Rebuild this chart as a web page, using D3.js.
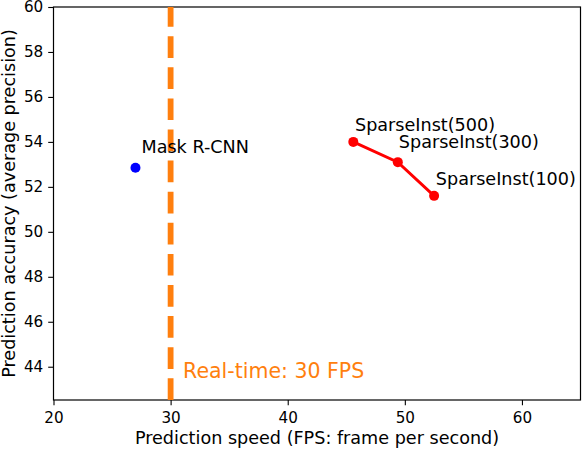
<!DOCTYPE html>
<html><head><meta charset="utf-8">
<script src="https://cdn.jsdelivr.net/npm/d3@7"></script>
<style>body{margin:0;background:#fff}svg{display:block}text{font-family:"DejaVu Sans",sans-serif}</style>
</head><body>
<script>
const maskName = ["Mask R-CNN"];
const maskFps = [27.0];
const maskAP = [52.85];
const sparseNames = ["SparseInst(500)", "SparseInst(300)", "SparseInst(100)"];
const sparseFps = [45.6, 49.4, 52.5];
const sparseAP = [54.0, 53.1, 51.6];
const xTicks = [20, 30, 40, 50, 60];
const yTicks = [44, 46, 48, 50, 52, 54, 56, 58, 60];
const realTimeFps = 30;
const realTimeLabel = "Real-time: 30 FPS";

// label placement (style, pixels)
const maskLabelOffset = [6, -15];
const sparseLabelOffsets = [[1.7, -11], [1, -14], [1.7, -10.7]];

const W = 584, H = 450;
const m = {l: 53.5, r: 3.5, t: 7, b: 50};
const svg = d3.select("body").append("svg").attr("width", W).attr("height", H);
const x = d3.scaleLinear().domain([20, 65]).range([m.l, W - m.r]);
const y = d3.scaleLinear().domain([42.52, 60]).range([H - m.b, m.t]);

const xAx = svg.append("g").attr("transform", `translate(0,${H - m.b})`)
  .call(d3.axisBottom(x).tickValues(xTicks).tickSize(5.3).tickPadding(6.6).tickFormat(d3.format("d")));
const yAx = svg.append("g").attr("transform", `translate(${m.l},0)`)
  .call(d3.axisLeft(y).tickValues(yTicks).tickSize(5.3).tickPadding(5).tickFormat(d3.format("d")));
[xAx, yAx].forEach(g => {
  g.select(".domain").remove();
  g.selectAll("line").attr("stroke", "#000").attr("stroke-width", 1.1);
  g.selectAll("text").attr("font-size", 15.2).attr("fill", "#000").attr("font-family", "DejaVu Sans");
});
svg.append("rect").attr("x", m.l).attr("y", m.t).attr("width", W - m.r - m.l).attr("height", H - m.b - m.t)
  .attr("fill", "none").attr("stroke", "#000").attr("stroke-width", 1.2);

// Real-time line, drawn bottom to top
svg.append("line").attr("x1", x(realTimeFps)).attr("x2", x(realTimeFps))
  .attr("y1", y(42.52)).attr("y2", y(60))
  .attr("stroke", "#ff7f0e").attr("stroke-width", 5.8).attr("stroke-dasharray", "21.7,9.4");
svg.append("text").attr("x", x(realTimeFps) + 12.5).attr("y", 378)
  .attr("font-size", 20.5).attr("fill", "#ff7f0e").text(realTimeLabel);

// Mask R-CNN
svg.selectAll(".mask").data(maskName).enter().append("circle")
  .attr("cx", (d, i) => x(maskFps[i])).attr("cy", (d, i) => y(maskAP[i])).attr("r", 5).attr("fill", "#0000ff");
svg.selectAll(".maskl").data(maskName).enter().append("text")
  .attr("x", (d, i) => x(maskFps[i]) + maskLabelOffset[0]).attr("y", (d, i) => y(maskAP[i]) + maskLabelOffset[1])
  .attr("font-size", 17.6).text(d => d);

// SparseInst
const pts = sparseNames.map((n, i) => [sparseFps[i], sparseAP[i]]);
svg.append("path").attr("d", d3.line().x(d => x(d[0])).y(d => y(d[1]))(pts))
  .attr("fill", "none").attr("stroke", "#ff0000").attr("stroke-width", 2.9);
svg.selectAll(".sp").data(pts).enter().append("circle")
  .attr("cx", d => x(d[0])).attr("cy", d => y(d[1])).attr("r", 5).attr("fill", "#ff0000");
svg.selectAll(".spl").data(sparseNames).enter().append("text")
  .attr("x", (d, i) => x(sparseFps[i]) + sparseLabelOffsets[i][0])
  .attr("y", (d, i) => y(sparseAP[i]) + sparseLabelOffsets[i][1])
  .attr("font-size", 17.6).text(d => d);

svg.append("text").attr("x", (m.l + W - m.r) / 2).attr("y", 443.5).attr("text-anchor", "middle")
  .attr("font-size", 17.6).text("Prediction speed (FPS: frame per second)");
svg.append("text").attr("transform", `translate(15,${(m.t + H - m.b) / 2}) rotate(-90)`)
  .attr("text-anchor", "middle").attr("font-size", 17.6).text("Prediction accuracy (average precision)");
</script>
</body></html>
